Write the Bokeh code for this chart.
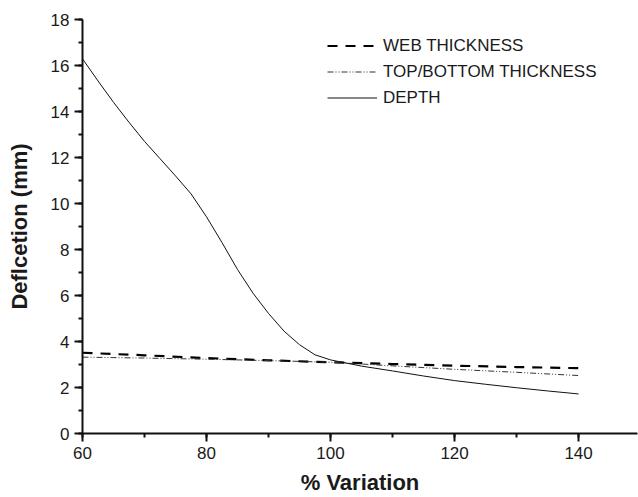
from bokeh.plotting import figure
from bokeh.models import SingleIntervalTicker, Legend, LegendItem, Range1d
from bokeh.embed import file_html
from bokeh.resources import INLINE

# % variation values
x_web = [60, 70, 80, 90, 100, 110, 120, 130, 140]
web_thickness = [3.51, 3.40, 3.28, 3.18, 3.10, 3.02, 2.95, 2.89, 2.84]

x_tb = [60, 70, 80, 90, 100, 110, 120, 130, 140]
top_bottom_thickness = [3.32, 3.28, 3.23, 3.17, 3.10, 2.94, 2.79, 2.66, 2.52]

x_depth = [60, 62.5, 65, 67.5, 70, 72.5, 75, 77.5, 80, 82.5, 85, 87.5, 90, 92.5,
           95, 97.5, 100, 105, 110, 115, 120, 125, 130, 135, 140]
depth = [16.29, 15.33, 14.4, 13.53, 12.7, 11.95, 11.2, 10.42, 9.42, 8.3, 7.13, 6.1,
         5.22, 4.45, 3.86, 3.42, 3.2, 2.93, 2.72, 2.5, 2.3, 2.14, 1.99, 1.85, 1.72]

FONT = "Liberation Sans"

p = figure(width=638, height=497, output_backend="svg", toolbar_location=None,
           x_range=Range1d(60, 149.5), y_range=Range1d(0, 18),
           min_border_left=82, min_border_top=19, min_border_right=1, min_border_bottom=50)
p.outline_line_color = None
p.grid.visible = False
p.background_fill_color = "white"
p.border_fill_color = "white"

r_web = p.line(x_web, web_thickness, line_color="black", line_width=2.2, line_dash="10 8")
r_tb = p.line(x_tb, top_bottom_thickness, line_color="#333333", line_width=1, line_dash="6 2 1 2 1 2")
r_depth = p.line(x_depth, depth, line_color="#111111", line_width=1)

for ax in (p.xaxis[0], p.yaxis[0]):
    ax.axis_line_width = 2
    ax.axis_line_color = "#111111"
    ax.major_tick_line_width = 2
    ax.minor_tick_line_width = 2
    ax.major_tick_line_color = "#111111"
    ax.minor_tick_line_color = "#111111"
    ax.major_tick_in = 0
    ax.major_tick_out = 8
    ax.minor_tick_in = 0
    ax.minor_tick_out = 4
    ax.major_label_text_font = FONT
    ax.major_label_text_font_size = "17px"
    ax.major_label_text_color = "#1a1a1a"
    ax.axis_label_text_font = FONT
    ax.axis_label_text_font_size = "22px"
    ax.axis_label_text_font_style = "bold"
    ax.axis_label_text_color = "#1a1a1a"

p.xaxis.ticker = SingleIntervalTicker(interval=20, num_minor_ticks=2)
p.yaxis.ticker = SingleIntervalTicker(interval=2, num_minor_ticks=2)
p.xaxis.axis_label = "% Variation"
p.yaxis.axis_label = "Deflcetion (mm)"
p.xaxis.major_label_standoff = 5
p.xaxis.axis_label_standoff = 8
p.yaxis.major_label_standoff = 5
p.yaxis.axis_label_standoff = 16

legend = Legend(items=[
    LegendItem(label="WEB THICKNESS", renderers=[r_web]),
    LegendItem(label="TOP/BOTTOM THICKNESS", renderers=[r_tb]),
    LegendItem(label="DEPTH", renderers=[r_depth]),
], location=(245, 324))
legend.border_line_color = None
legend.background_fill_alpha = 0
legend.padding = 0
legend.margin = 0
legend.spacing = 3
legend.glyph_width = 50
legend.glyph_height = 23
legend.label_height = 23
legend.label_standoff = 6
legend.label_text_font = FONT
legend.label_text_font_size = "17px"
legend.label_text_color = "#1a1a1a"
p.add_layout(legend)

open("out.html", "w").write(file_html(p, INLINE))
